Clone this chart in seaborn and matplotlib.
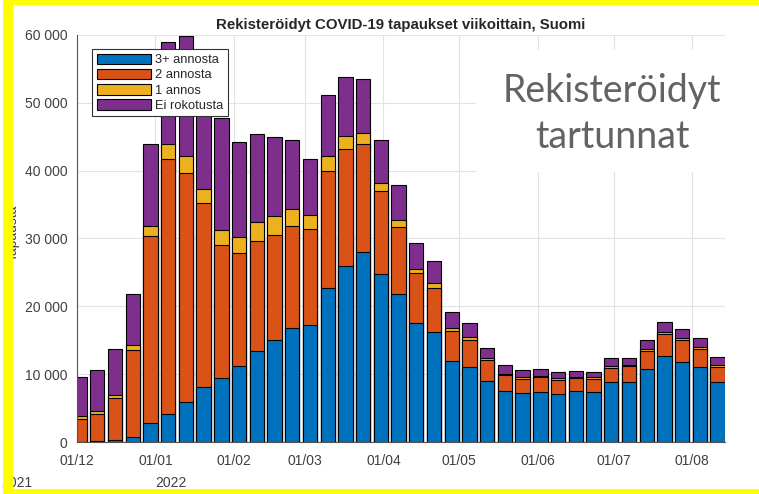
import numpy as np
import pandas as pd
import matplotlib
matplotlib.use('Agg')
import matplotlib.pyplot as plt
import matplotlib.dates as mdates
from matplotlib.patches import Rectangle, Patch
from matplotlib.ticker import FuncFormatter, MultipleLocator
import seaborn as sns

# weekly registered COVID-19 cases in Finland by vaccination status
weeks = pd.date_range('2021-12-02', periods=37, freq='7D')
dose3 = [50, 100, 250, 690, 2800, 4190, 5950, 8100, 9490, 11160, 13370, 15090, 16800,
         17300, 22760, 26000, 28060, 24820, 21870, 17600, 16210, 11940, 11060, 9050,
         7520, 7230, 7370, 7080, 7470, 7370, 8800, 8840, 10720, 12630, 11790, 11010, 8840]
dose2 = [3400, 4090, 6190, 12830, 27620, 37530, 33650, 27080, 19610, 16760, 16320, 15380,
         15100, 14150, 17240, 17250, 15920, 12180, 9820, 7310, 6550, 4420, 4030, 3100,
         2310, 2110, 2170, 2120, 1960, 1920, 2170, 2320, 2750, 3350, 3240, 2760, 2270]
dose1 = [380, 380, 490, 730, 1480, 2280, 2560, 2170, 2100, 2250, 2800, 2840, 2500, 1970,
         2160, 1810, 1520, 1180, 1090, 650, 630, 440, 390, 290, 220, 200, 210, 190, 200,
         220, 200, 210, 250, 280, 250, 240, 250]
unvacc = [5710, 6000, 6830, 7620, 12080, 14900, 17740, 14650, 16500, 14050, 12860, 11650,
          10070, 8250, 8990, 8740, 8010, 6290, 5060, 3770, 3250, 2320, 2060, 1470, 1230,
          1140, 1070, 950, 790, 740, 1180, 1070, 1260, 1370, 1380, 1330, 1120]

labels = ['3+ annosta', '2 annosta', '1 annos', 'Ei rokotusta']
colors = ['#0072BD', '#D95319', '#EDB120', '#7E2F8E']

df = pd.DataFrame({'week': mdates.date2num(weeks), '3+ annosta': dose3, '2 annosta': dose2,
                   '1 annos': dose1, 'Ei rokotusta': unvacc})
stacked = df[labels].cumsum(axis=1)

sns.set_theme(style='white')
plt.rcParams['font.family'] = ['Liberation Sans', 'DejaVu Sans']

fig = plt.figure(figsize=(7.59, 4.94), dpi=100)
W, H = 759, 494
ax = fig.add_axes([77 / W, (H - 442) / H, (725 - 77) / W, (442 - 35) / H])

# draw totals first, then cover with the lower stacks
for i in range(3, -1, -1):
    sns.barplot(x=df['week'], y=stacked[labels[i]], native_scale=True, color=colors[i],
                saturation=1, edgecolor='black', linewidth=0.8, width=0.81,
                errorbar=None, ax=ax, zorder=2)

ax.set_xlim(mdates.date2num(pd.Timestamp('2021-12-01')),
            mdates.date2num(pd.Timestamp('2022-08-01')) + 12.9)
ax.set_ylim(0, 60000)
ax.xaxis.set_major_locator(mdates.MonthLocator(bymonthday=1))
ax.xaxis.set_major_formatter(mdates.DateFormatter('%d/%m'))
ax.yaxis.set_major_locator(MultipleLocator(10000))
ax.yaxis.set_major_formatter(FuncFormatter(lambda v, p: f'{int(v):,}'.replace(',', ' ')))
ax.set_xlabel('')
ax.set_ylabel('')

ax.set_axisbelow(True)
ax.grid(True, color='#e3e3e3', linewidth=0.8)
for s in ['top', 'right']:
    ax.spines[s].set_visible(False)
for s in ['left', 'bottom']:
    ax.spines[s].set_color('#555555')
    ax.spines[s].set_linewidth(0.8)
ax.tick_params(axis='both', direction='out', length=5, width=0.8, color='#555555',
               labelsize=10, labelcolor='#404040', pad=2)
ax.tick_params(axis='x', pad=3.5)

ax.set_title('Rekisteröidyt COVID-19 tapaukset viikoittain, Suomi', fontsize=10.8,
             fontweight='bold', pad=4.5)

handles = [Patch(facecolor=c, edgecolor='black', linewidth=0.8) for c in colors]
leg = ax.legend(handles, labels, loc='upper left', bbox_to_anchor=(92 / W, 1 - 49 / H),
                bbox_transform=fig.transFigure, borderaxespad=0, fontsize=9.3,
                handlelength=4.2, handleheight=0.9, labelspacing=0.18, handletextpad=0.35,
                borderpad=0.35, fancybox=False, framealpha=1, edgecolor='#333333')
leg.get_frame().set_linewidth(0.8)

# white panel behind the big caption hides the grid there
fig.add_artist(Rectangle((476 / W, 1 - 172 / H), 254 / W, 122 / H, transform=fig.transFigure,
                         facecolor='white', edgecolor='none', zorder=1))
fig.text(612 / W, 1 - 114 / H, 'Rekisteröidyt\ntartunnat', ha='center', va='center',
         fontsize=27, color='#636363', family=['Lato', 'DejaVu Sans'], linespacing=1.35,
         zorder=5)

fig.text(1.5 / W, 1 - 482.5 / H, '2021', ha='left', va='center', fontsize=10, color='#404040')
fig.text(155.5 / W, 1 - 482.5 / H, '2022', ha='left', va='center', fontsize=10, color='#404040')
fig.text(12.5 / W, 1 - 233 / H, 'Tapausta', ha='center', va='center', rotation=90,
         fontsize=10, color='#404040')

# yellow frame
yellow = '#FFFF00'
for x0, y0, w, h in [(3.3, 0, 10, 494), (3.3, 0, 756, 5), (5, 489, 754, 5)]:
    fig.add_artist(Rectangle((x0 / W, 1 - (y0 + h) / H), w / W, h / H,
                             transform=fig.transFigure, facecolor=yellow,
                             edgecolor='none', zorder=20))

fig.savefig('out.png', dpi=100)
